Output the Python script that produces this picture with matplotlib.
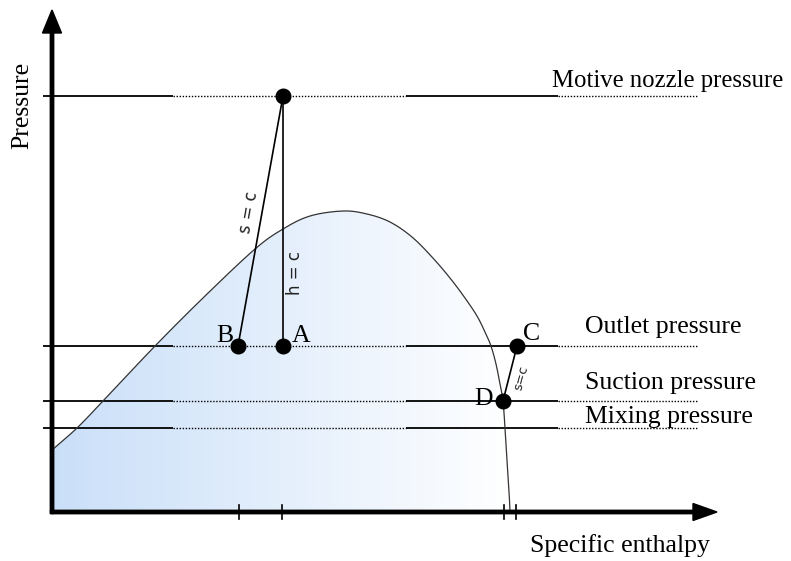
import numpy as np
import matplotlib
matplotlib.use('Agg')
import matplotlib.pyplot as plt
from matplotlib.patches import Polygon

# Pressure levels (arbitrary units, origin at the axes corner)
level_names = ['Motive nozzle pressure', 'Outlet pressure', 'Suction pressure', 'Mixing pressure']
level_values = [416, 166, 111, 84]

# State points: enthalpy, pressure
state_labels = ['A', 'B', 'C', 'D']
state_h = [231, 186, 465, 451]
state_p = [166, 166, 166, 111]
motive_h = 231
motive_p = 416

# Saturation dome (enthalpy, pressure)
dome_h = [0, 25, 51, 103, 153, 203, 231, 258, 291, 315, 338, 360, 380, 398, 413,
          425, 433, 439, 444, 448, 451, 453, 455, 457, 458]
dome_p = [62, 84, 111, 166, 216, 263, 283, 296, 301, 298, 290, 275, 255, 234, 214,
          196, 180, 166, 148, 128, 111, 84, 52, 22, 0]

# enthalpy ticks on the x axis
tick_h = [187, 230, 452, 464]


def smooth(xs, ys, n=20):
    # Catmull-Rom through the listed points, just for a round outline
    P = np.column_stack([xs, ys]).astype(float)
    P = np.vstack([2 * P[0] - P[1], P, 2 * P[-1] - P[-2]])
    t = np.linspace(0, 1, n, endpoint=False)[:, None]
    out = []
    for i in range(1, len(P) - 2):
        p0, p1, p2, p3 = P[i - 1], P[i], P[i + 1], P[i + 2]
        seg = 0.5 * ((2 * p1) + (-p0 + p2) * t + (2 * p0 - 5 * p1 + 4 * p2 - p3) * t ** 2
                     + (-p0 + 3 * p1 - 3 * p2 + p3) * t ** 3)
        out.append(seg)
    out.append(P[-2][None, :])
    out = np.vstack(out)
    return out[:, 0], out[:, 1]


serif = ['Liberation Serif', 'DejaVu Serif']
fs = 18.5

fig = plt.figure(figsize=(7.91, 5.61), dpi=100)
ax = fig.add_axes([0, 0, 1, 1])
ax.set_xlim(-52, 739)
ax.set_ylim(-49, 512)
ax.axis('off')

# Dome with a horizontal blue-to-white gradient
dx, dy = smooth(dome_h, dome_p)
poly = Polygon(np.column_stack([np.r_[dx, 0], np.r_[dy, 0]]), closed=True,
               facecolor='none', edgecolor='none')
ax.add_patch(poly)
grad = np.linspace(0, 1, 256)[None, :]
c0 = np.array([0.79, 0.875, 0.975])
c1 = np.array([1.0, 1.0, 1.0])
img = c0[None, None, :] * (1 - grad[..., None]) + c1[None, None, :] * grad[..., None]
im = ax.imshow(img, extent=[0, 460, 0, 305], origin='lower', aspect='auto', zorder=1)
im.set_clip_path(poly)
ax.plot(dx, dy, color='#333333', lw=0.9, zorder=3)

# Pressure levels: solid and dotted stretches
solid_parts = [(-9, 121), (354, 506)]
dotted_parts = [(121, 354), (506, 646)]
for p in level_values:
    for a, b in solid_parts:
        ax.plot([a, b], [p, p], color='black', lw=1.3, solid_capstyle='butt', zorder=2)
    for a, b in dotted_parts:
        ax.plot([a, b], [p, p], color='black', lw=1.0, linestyle=(0, (1, 1.2)),
                dash_capstyle='butt', zorder=2)

label_x = [500, 533, 533, 533]
label_dy = [9, 13, 12, 5]
label_fs = [17.8, fs, fs, fs]
for name, p, lx, d, s in zip(level_names, level_values, label_x, label_dy, label_fs):
    ax.text(lx, p + d, name, family=serif, fontsize=s, ha='left', va='baseline')

# Process lines
hA, hB, hC, hD = state_h
pA, pB, pC, pD = state_p
ax.plot([motive_h, hB], [motive_p, pB], color='black', lw=1.2, zorder=4)
ax.plot([motive_h, hA], [motive_p, pA], color='black', lw=1.2, zorder=4)
ax.plot([hC, hD], [pC, pD], color='black', lw=1.2, zorder=4)

ax.plot([motive_h] + state_h, [motive_p] + state_p, 'o', color='black', ms=10.5, zorder=5)

offsets = {'A': (9, 4), 'B': (-22, 4), 'C': (6, 6), 'D': (-29, -4)}
for lab, h, p in zip(state_labels, state_h, state_p):
    ox, oy = offsets[lab]
    ax.text(h + ox, p + oy, lab, family=serif, fontsize=fs, ha='left', va='baseline')

ax.text(197, 300, 's = c', fontsize=12, rotation=80, ha='center', va='center', color='#222222')
ax.text(243, 239, 'h = c', fontsize=12, rotation=90, ha='center', va='center', color='#222222')
ax.text(469, 134, 's=c', fontsize=9.5, rotation=75, ha='center', va='center', color='#222222')

# Axes with arrow heads
ax.arrow(0, -1.5, 0, 503.5, width=3.4, head_width=19, head_length=23,
         length_includes_head=True, color='black', zorder=6)
ax.arrow(-1.5, 0, 666.5, 0, width=3.4, head_width=17, head_length=24,
         length_includes_head=True, color='black', zorder=6)
for h in tick_h:
    ax.plot([h, h], [-7, 7], color='black', lw=1.2, zorder=6)

ax.text(-30, 407, 'Pressure', family=serif, fontsize=fs, rotation=90, ha='center', va='center')
ax.text(478, -40, 'Specific enthalpy', family=serif, fontsize=fs, ha='left', va='baseline')

fig.savefig('out.png', dpi=100)
